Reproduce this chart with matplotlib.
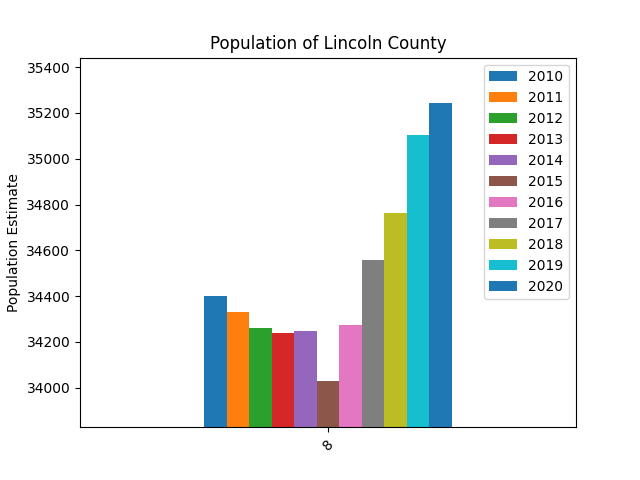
import pandas as pd
import matplotlib
matplotlib.use("Agg")
import matplotlib.pyplot as plt

years = ["2010", "2011", "2012", "2013", "2014", "2015",
         "2016", "2017", "2018", "2019", "2020"]
population = [34399, 34329, 34259, 34237, 34246, 34027,
              34272, 34556, 34765, 35102, 35242]
row_index = [8]

df = pd.DataFrame([population], columns=years, index=row_index)

ax = df.plot(kind="bar", rot=45)
ax.set_ylim(min(population) - 200, max(population) + 200)
ax.set_title("Population of Lincoln County")
ax.set_ylabel("Population Estimate")

plt.savefig("out.png")
